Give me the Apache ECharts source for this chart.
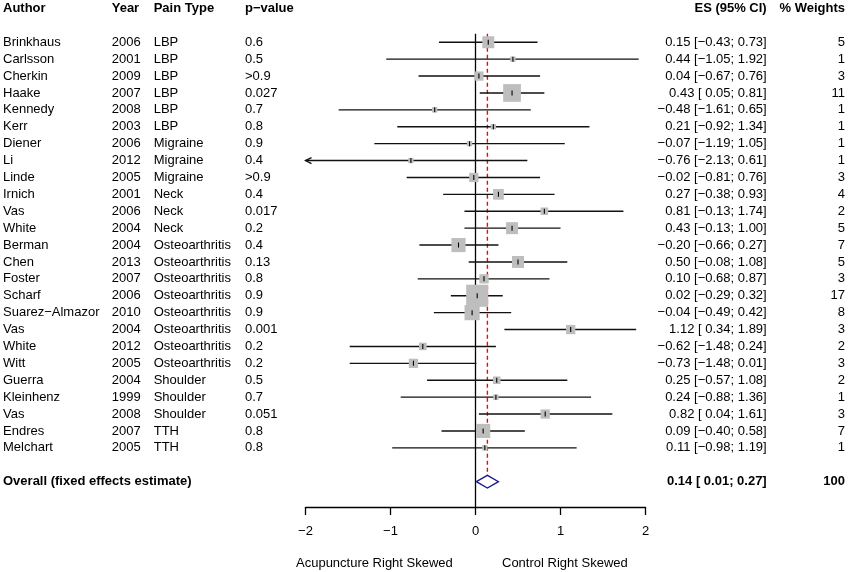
<!DOCTYPE html>
<html><head><meta charset="utf-8">
<script src="https://cdn.jsdelivr.net/npm/echarts@6/dist/echarts.min.js"></script>
<style>html,body{margin:0;padding:0;background:#fff}#c{width:848px;height:572px}</style>
</head><body><div id="c"></div>
<script>
const authors = ['Brinkhaus','Carlsson','Cherkin','Haake','Kennedy','Kerr','Diener','Li','Linde','Irnich','Vas','White','Berman','Chen','Foster','Scharf','Suarez\u2212Almazor','Vas','White','Witt','Guerra','Kleinhenz','Vas','Endres','Melchart'];
const years = [2006,2001,2009,2007,2008,2003,2006,2012,2005,2001,2006,2004,2004,2013,2007,2006,2010,2004,2012,2005,2004,1999,2008,2007,2005];
const painTypes = ['LBP','LBP','LBP','LBP','LBP','LBP','Migraine','Migraine','Migraine','Neck','Neck','Neck','Osteoarthritis','Osteoarthritis','Osteoarthritis','Osteoarthritis','Osteoarthritis','Osteoarthritis','Osteoarthritis','Osteoarthritis','Shoulder','Shoulder','Shoulder','TTH','TTH'];
const pValues = ['0.6','0.5','>0.9','0.027','0.7','0.8','0.9','0.4','>0.9','0.4','0.017','0.2','0.4','0.13','0.8','0.9','0.9','0.001','0.2','0.2','0.5','0.7','0.051','0.8','0.8'];
const es = [0.15,0.44,0.04,0.43,-0.48,0.21,-0.07,-0.76,-0.02,0.27,0.81,0.43,-0.20,0.50,0.10,0.02,-0.04,1.12,-0.62,-0.73,0.25,0.24,0.82,0.09,0.11];
const lower = [-0.43,-1.05,-0.67,0.05,-1.61,-0.92,-1.19,-2.13,-0.81,-0.38,-0.13,-0.13,-0.66,-0.08,-0.68,-0.29,-0.49,0.34,-1.48,-1.48,-0.57,-0.88,0.04,-0.40,-0.98];
const upper = [0.73,1.92,0.76,0.81,0.65,1.34,1.05,0.61,0.76,0.93,1.74,1.00,0.27,1.08,0.87,0.32,0.42,1.89,0.24,0.01,1.08,1.36,1.61,0.58,1.19];
const weights = [5,1,3,11,1,1,1,1,3,4,2,5,7,5,3,17,8,3,2,3,2,1,3,7,1];
const overallLabel = 'Overall (fixed effects estimate)';
const overallES = 0.14, overallLower = 0.01, overallUpper = 0.27, overallWeight = 100;
const headers = ['Author','Year','Pain Type','p\u2212value','ES (95% CI)','% Weights'];
const xTicks = [-2,-1,0,1,2];
const bottomLabels = ['Acupuncture Right Skewed','Control Right Skewed'];

const FONT = '"Liberation Sans", Arial, Helvetica, sans-serif';
const XMIN = xTicks[0], XMAX = xTicks[xTicks.length-1];
const HEADER_ROW = -2, OVERALL_ROW = authors.length + 1;
const M = '\u2212';
function f2(v){ return (v<0?M:'') + Math.abs(v).toFixed(2); }
function ciText(e,lo,hi){ return f2(e) + ' [' + (lo<0?M:' ') + Math.abs(lo).toFixed(2) + '; ' + f2(hi) + ']'; }

const colX = {author:3, year:111.7, pain:153.7, p:245, es:766.7, w:845};

const tableRows = [];
tableRows.push({row:HEADER_ROW, cells:headers, bold:true});
authors.forEach((a,i)=>tableRows.push({row:i, cells:[a,String(years[i]),painTypes[i],pValues[i],ciText(es[i],lower[i],upper[i]),String(weights[i])], bold:false}));
tableRows.push({row:OVERALL_ROW, cells:[overallLabel,'','','',ciText(overallES,overallLower,overallUpper),String(overallWeight)], bold:true});

function txt(x,y,s,align,bold){
  return {type:'text', style:{x:x,y:y,text:s,textAlign:align,textVerticalAlign:'middle',
    font:(bold?'bold ':'')+'13px '+FONT, fill:'#000'}};
}

const chart = echarts.init(document.getElementById('c'), null, {renderer:'canvas'});
chart.setOption({
  animation:false,
  backgroundColor:'#fff',
  grid:{left:305.5, right:202.5, top:-1, bottom:65, containLabel:false},
  xAxis:{type:'value', min:XMIN, max:XMAX, interval:1,
    axisLine:{show:true, onZero:false, lineStyle:{color:'#000', width:1.3}},
    axisTick:{show:true, length:8, lineStyle:{color:'#000', width:1.3}},
    axisLabel:{margin:18, color:'#000', fontSize:13, fontFamily:FONT,
      formatter:v=>String(v).replace('-',M)},
    splitLine:{show:false}},
  yAxis:{type:'value', inverse:true, min:-2.5, max:27.5, show:false},
  series:[
    {type:'line', data:[[0,-0.5],[0,27.5]], symbol:'none', lineStyle:{color:'#000', width:1.3}, z:1},
    {type:'line', data:[[overallES,-0.5],[overallES,OVERALL_ROW-0.37]], symbol:'none', lineStyle:{color:'#ff0000', width:1.4, type:[4,3]}, z:1},
    {type:'custom', clip:false, z:2,
      data: es.map((e,i)=>[e,i,lower[i],upper[i],weights[i]]),
      renderItem:function(params, api){
        const e=api.value(0), row=api.value(1), lo=api.value(2), hi=api.value(3), w=api.value(4);
        const pL = api.coord([Math.max(lo,XMIN), row]);
        const pH = api.coord([Math.min(hi,XMAX), row]);
        const pE = api.coord([e,row]);
        const s = 5.35*Math.sqrt(w);
        const ch = [
          {type:'line', shape:{x1:pL[0],y1:pL[1],x2:pH[0],y2:pH[1]}, style:{stroke:'#111', lineWidth:1.4}},
          {type:'rect', shape:{x:pE[0]-s/2,y:pE[1]-s/2,width:s,height:s}, style:{fill:'#bebebe'}},
          {type:'line', shape:{x1:pE[0],y1:pE[1]-2.5,x2:pE[0],y2:pE[1]+2.5}, style:{stroke:'#000', lineWidth:1.1}}
        ];
        if (lo < XMIN) ch.push({type:'polyline', shape:{points:[[pL[0]+6,pL[1]-3],[pL[0],pL[1]],[pL[0]+6,pL[1]+3]]}, style:{stroke:'#111', lineWidth:1.3, fill:null}});
        if (hi > XMAX) ch.push({type:'polyline', shape:{points:[[pH[0]-6,pH[1]-3],[pH[0],pH[1]],[pH[0]-6,pH[1]+3]]}, style:{stroke:'#111', lineWidth:1.3, fill:null}});
        return {type:'group', children:ch};
      }},
    {type:'custom', clip:false, z:4,
      data:[[overallES, OVERALL_ROW, overallLower, overallUpper]],
      renderItem:function(params, api){
        const c = api.coord([api.value(0), api.value(1)]);
        const l = api.coord([api.value(2), api.value(1)]);
        const r = api.coord([api.value(3), api.value(1)]);
        const h = 6.3;
        return {type:'polygon', shape:{points:[[l[0],c[1]],[c[0],c[1]-h],[r[0],c[1]],[c[0],c[1]+h]]},
          style:{fill:'#fff', stroke:'#1a1a8c', lineWidth:1.3}};
      }},
    {type:'custom', clip:false, z:5,
      data: tableRows.map(r=>[0,r.row]),
      renderItem:function(params, api){
        const tr = tableRows[params.dataIndex];
        const y = api.coord([0, api.value(1)])[1];
        const c = tr.cells;
        const ch = [
          txt(colX.author,y,c[0],'left',tr.bold),
          txt(colX.year,y,c[1],'left',tr.bold),
          txt(colX.pain,y,c[2],'left',tr.bold),
          txt(colX.p,y,c[3],'left',tr.bold),
          txt(colX.es,y,c[4],'right',tr.bold),
          txt(colX.w,y,c[5],'right',tr.bold)
        ];
        return {type:'group', children:ch};
      }}
  ],
  graphic:[
    {type:'text', left:296, top:557, style:{text:bottomLabels[0], font:'13px '+FONT, fill:'#000'}},
    {type:'text', left:502, top:557, style:{text:bottomLabels[1], font:'13px '+FONT, fill:'#000'}}
  ]
});
</script></body></html>
